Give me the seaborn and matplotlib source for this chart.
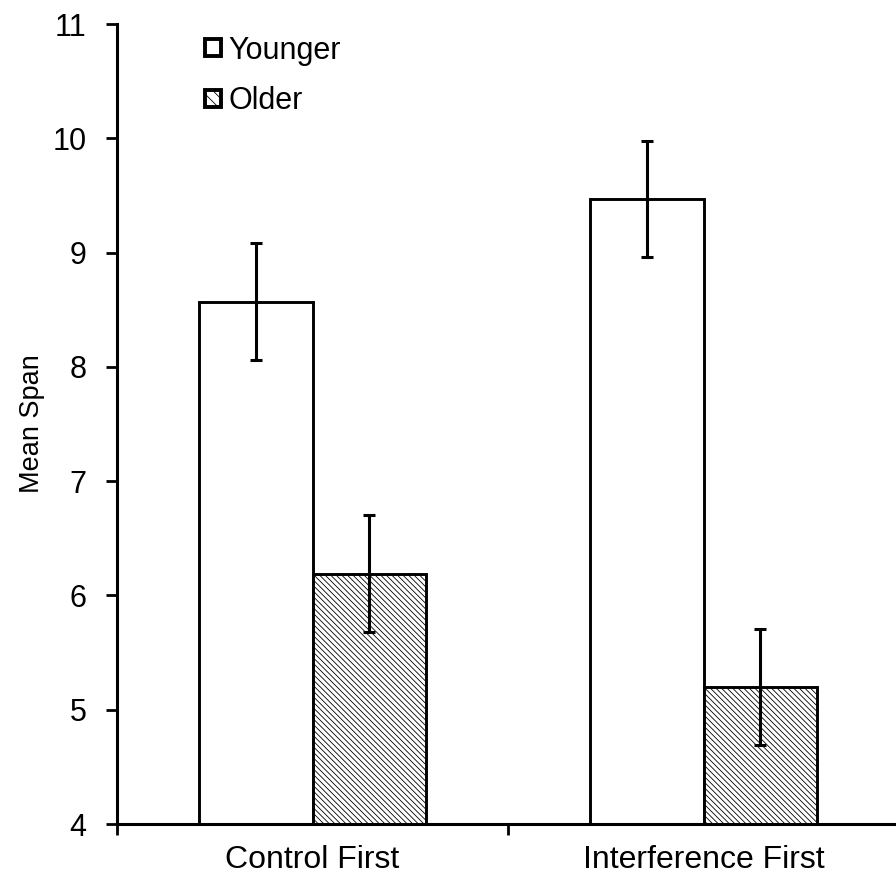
import matplotlib
matplotlib.use("Agg")
import matplotlib.pyplot as plt
import matplotlib.patches as mpatches
import seaborn as sns
import pandas as pd
import numpy as np

conditions = ["Control First", "Interference First"]
groups = ["Younger", "Older"]
younger_means = [8.57, 9.47]
older_means = [6.19, 5.20]
younger_err = [0.51, 0.51]
older_err = [0.51, 0.51]

rows = []
for i, c in enumerate(conditions):
    rows.append({"Condition": c, "Group": "Younger", "Span": younger_means[i], "Err": younger_err[i]})
    rows.append({"Condition": c, "Group": "Older", "Span": older_means[i], "Err": older_err[i]})
df = pd.DataFrame(rows)

sns.set_style("white")
plt.rcParams["font.family"] = ["Liberation Sans", "DejaVu Sans"]
plt.rcParams["hatch.linewidth"] = 0.6
plt.rcParams["hatch.color"] = "#333333"
plt.rcParams["text.color"] = "black"
plt.rcParams["axes.labelcolor"] = "black"
plt.rcParams["xtick.color"] = "black"
plt.rcParams["ytick.color"] = "black"

fig = plt.figure(figsize=(8.96, 8.75), dpi=100)
ax = fig.add_axes([117/896, 1 - 824/875, 782/896, 800/875])

sns.barplot(data=df, x="Condition", y="Span", hue="Group", order=conditions,
            hue_order=groups, palette=["white", "white"], edgecolor="black",
            linewidth=2.1, width=0.58, errorbar=None, ax=ax, legend=False)

bars = [p for p in ax.patches if isinstance(p, mpatches.Rectangle) and p.get_width() > 0]
n = len(conditions)
for j, p in enumerate(bars[:2 * n]):
    if j >= n:
        p.set_hatch("\\\\\\\\\\\\")
        p.set_facecolor("white")
    g = groups[j // n]
    c = conditions[j % n]
    row = df[(df.Group == g) & (df.Condition == c)].iloc[0]
    ax.errorbar(p.get_x() + p.get_width() / 2, row.Span, yerr=row.Err,
                fmt="none", ecolor="black", elinewidth=2.2, capsize=4.6,
                capthick=2.2, zorder=5)

ax.set_ylim(4, 11)
ax.set_xlim(-0.5, 1.5)
ax.set_yticks(range(4, 12))
ax.set_xticks([-0.5, 0.5, 1.5])
ax.set_xticklabels([])
ax.set_xticks([0, 1], minor=True)
ax.set_xticklabels(conditions, minor=True)
ax.tick_params(axis="x", which="major", direction="out", length=8, width=2, bottom=True)
ax.tick_params(axis="x", which="minor", length=0, pad=15, labelsize=23)
ax.tick_params(axis="y", direction="out", length=8, width=2, left=True, labelsize=22, pad=14)
ax.set_xlabel("")
ax.set_ylabel("Mean Span", fontsize=19.5, labelpad=5)

for s in ["top", "right"]:
    ax.spines[s].set_visible(False)
for s in ["left", "bottom"]:
    ax.spines[s].set_visible(True)
    ax.spines[s].set_linewidth(2.2)
    ax.spines[s].set_color("black")

handles = [mpatches.Patch(facecolor="white", edgecolor="black", linewidth=2.8, label="Younger"),
           mpatches.Patch(facecolor="white", edgecolor="black", linewidth=2.8, hatch="\\\\\\", label="Older")]
leg = ax.legend(handles=handles, loc="upper left", bbox_to_anchor=(0.078, 1.02),
                frameon=False, fontsize=22, handlelength=0.5, handleheight=0.5,
                handletextpad=0.25, labelspacing=0.68)

fig.savefig("out.png", dpi=100)
